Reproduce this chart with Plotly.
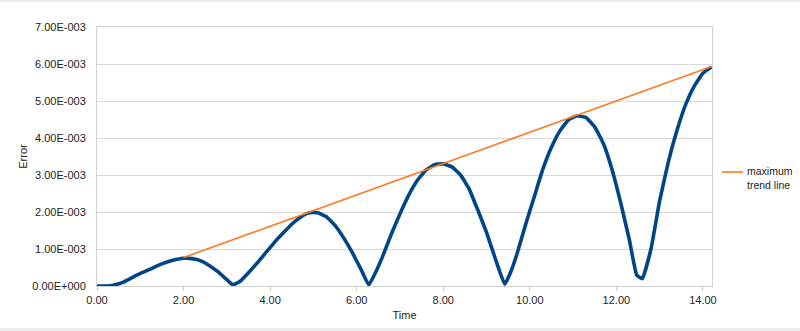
import plotly.graph_objects as go

time = [0.0, 0.2, 0.4, 0.6, 0.8, 1.0, 1.2, 1.4, 1.6, 1.8, 2.0, 2.2, 2.4, 2.6, 2.8, 3.0, 3.14,
        3.3, 3.5, 3.7, 3.9, 4.1, 4.3, 4.5, 4.7, 4.9, 5.1, 5.3, 5.5, 5.7, 5.9, 6.1, 6.28,
        6.45, 6.6, 6.8, 7.0, 7.2, 7.4, 7.6, 7.8, 8.0, 8.2, 8.4, 8.6, 8.8, 9.0, 9.2, 9.42,
        9.55, 9.7, 9.9, 10.1, 10.3, 10.5, 10.7, 10.9, 11.1, 11.3, 11.5, 11.7, 11.9, 12.1,
        12.3, 12.47, 12.6, 12.8, 13.0, 13.2, 13.4, 13.6, 13.8, 14.0, 14.2]
error_e3 = [0.00, 0.00, 0.03, 0.10, 0.22, 0.34, 0.44, 0.55, 0.64, 0.71, 0.75, 0.74, 0.68, 0.55, 0.38, 0.17, 0.03,
            0.12, 0.36, 0.62, 0.90, 1.18, 1.43, 1.67, 1.86, 1.98, 1.98, 1.87, 1.64, 1.30, 0.90, 0.45, 0.03,
            0.40, 0.80, 1.40, 1.95, 2.45, 2.85, 3.13, 3.28, 3.30, 3.22, 3.00, 2.62, 2.05, 1.45, 0.75, 0.05,
            0.35, 0.85, 1.65, 2.40, 3.15, 3.75, 4.20, 4.50, 4.60, 4.55, 4.30, 3.85, 3.15, 2.25,
            1.25, 0.30, 0.20, 1.00, 2.30, 3.35, 4.20, 4.90, 5.40, 5.75, 5.92]
error = [v * 1e-3 for v in error_e3]

trend_time = [2.0, 14.2]
trend_error = [0.77e-3, 5.93e-3]
trend_name = "maximum<br>trend line"

x_ticks = [0, 2, 4, 6, 8, 10, 12, 14]
x_labels = ["0.00", "2.00", "4.00", "6.00", "8.00", "10.00", "12.00", "14.00"]
y_ticks = [0, 1e-3, 2e-3, 3e-3, 4e-3, 5e-3, 6e-3, 7e-3]
y_labels = ["0.00E+000", "1.00E-003", "2.00E-003", "3.00E-003", "4.00E-003",
            "5.00E-003", "6.00E-003", "7.00E-003"]

BLUE = "#004586"
ORANGE = "#ff7b22"

fig = go.Figure()
fig.add_trace(go.Scatter(x=time, y=error, mode="lines", showlegend=False,
                         line=dict(color=BLUE, width=3.6, shape="spline", smoothing=0.35),
                         name="Error"))
fig.add_trace(go.Scatter(x=trend_time, y=trend_error, mode="lines", showlegend=False,
                         line=dict(color=ORANGE, width=1.6),
                         name="maximum trend line"))

L, R, T, B = 97, 88, 27, 45
W, H = 800, 331
pw, ph = W - L - R, H - T - B

def px(xp):
    return (xp - L) / pw

def py(yp):
    return (H - B - yp) / ph

fig.update_layout(
    width=W, height=H,
    margin=dict(l=L, r=R, t=T, b=B, autoexpand=False),
    paper_bgcolor="white", plot_bgcolor="white",
    font=dict(family="Liberation Sans, Arial, sans-serif", size=11, color="#222"),
    showlegend=False,
    xaxis=dict(range=[0, 14.21], tickvals=x_ticks, ticktext=x_labels,
               showgrid=False, zeroline=False,
               showline=True, linecolor="#d0d0d0", linewidth=1, mirror=True,
               ticks="outside", ticklen=4, tickcolor="#c8c8c8",
               title=dict(text="Time", standoff=6, font=dict(size=11))),
    yaxis=dict(range=[0, 7e-3], tickvals=y_ticks, ticktext=y_labels,
               showgrid=True, gridcolor="#d9d9d9", gridwidth=1, zeroline=False,
               showline=True, linecolor="#d0d0d0", linewidth=1, mirror=True,
               ticks="", ticklabelstandoff=8,
               title=dict(text="Error", standoff=2, font=dict(size=11))),
    shapes=[
        dict(type="rect", xref="paper", yref="paper",
             x0=px(0), x1=px(W), y0=py(0), y1=py(2),
             fillcolor="#ececec", line=dict(width=0), layer="below"),
        dict(type="rect", xref="paper", yref="paper",
             x0=px(0), x1=px(W), y0=py(328), y1=py(331),
             fillcolor="#ececec", line=dict(width=0), layer="below"),
        dict(type="line", xref="paper", yref="paper",
             x0=px(722), x1=px(743), y0=py(172), y1=py(172),
             line=dict(color=ORANGE, width=1.6)),
    ],
    annotations=[
        dict(text=trend_name, xref="paper", yref="paper",
             x=px(745), y=py(178), xanchor="left", yanchor="middle",
             align="left", showarrow=False, font=dict(size=10.5, color="#222")),
    ],
)

fig.write_html("out.html")
